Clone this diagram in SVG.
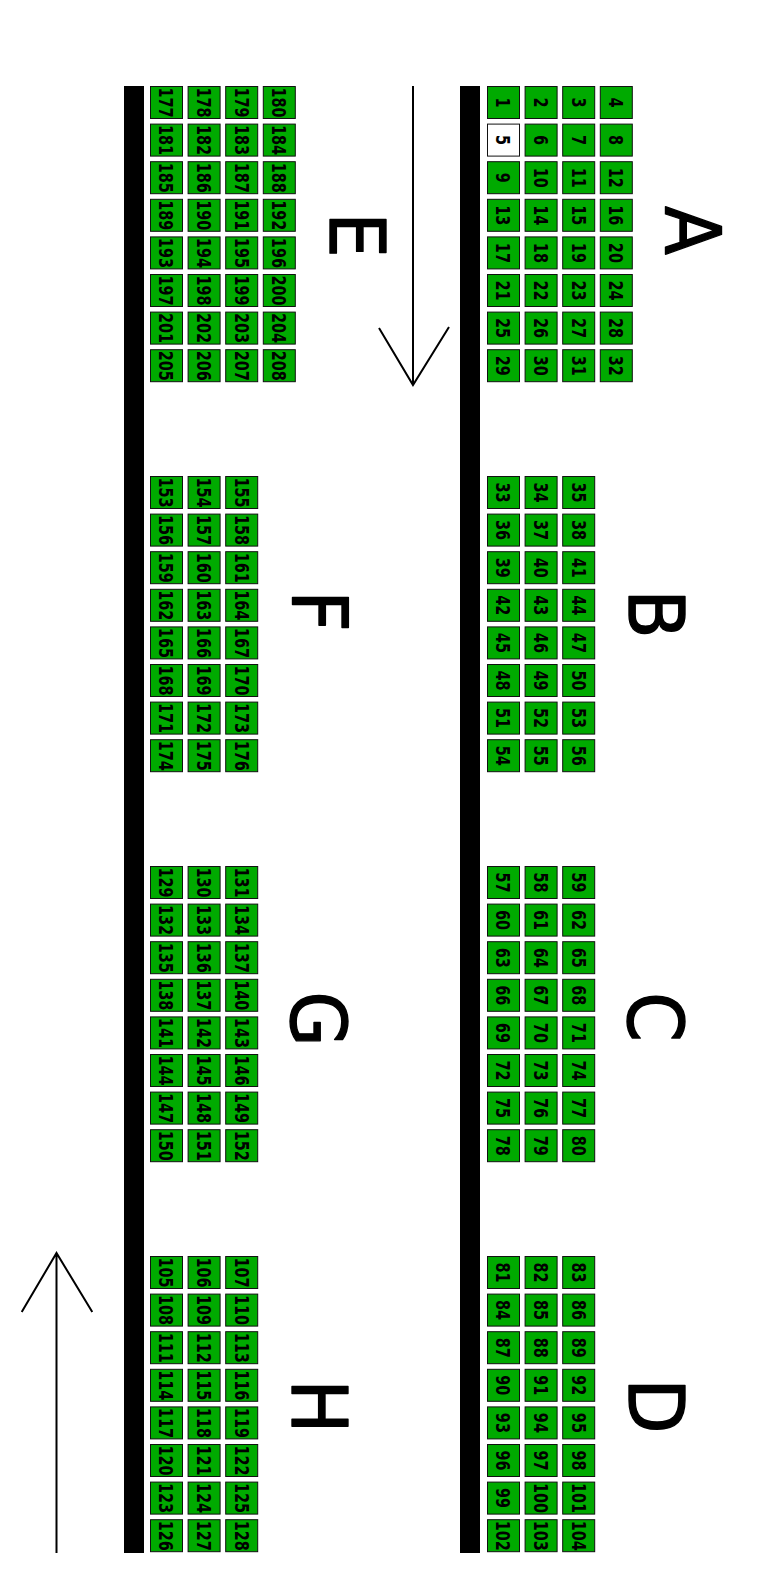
<svg xmlns="http://www.w3.org/2000/svg" width="759" height="1591" viewBox="0 0 759 1591">
<style>
rect.s{fill:#00aa00;stroke:#111;stroke-width:1}
rect.w{fill:#fff;stroke:#111;stroke-width:1}
text.n{font-family:"DejaVu Sans",sans-serif;font-weight:bold;font-size:19px;text-anchor:middle;fill:#000}
text.L{font-family:"DejaVu Sans",sans-serif;font-size:77px;text-anchor:middle;fill:#000;stroke:#000;stroke-width:1.4;stroke-linejoin:round}
.bar{fill:#000}
.arr{fill:none;stroke:#000;stroke-width:2}
</style>
<rect width="759" height="1591" fill="#fff"/>
<g id="curbs">
<rect class="bar" x="460" y="86" width="20" height="1467"/>
<rect class="bar" x="124" y="86" width="20" height="1467"/>
</g>
<g id="connectors">
<path class="arr" d="M413 86V385M379 328L413 385L449 327"/>
<path class="arr" d="M56.5 1553V1253M21.7 1312L56.5 1253L92.3 1312"/>
</g>
<g id="labels">
<text class="L" transform="translate(665.5 230.5) rotate(90) scale(.93 1)">A</text>
<text class="L" transform="translate(628.8 614) rotate(90) scale(.93 1)">B</text>
<text class="L" transform="translate(627.8 1017) rotate(90) scale(.93 1)">C</text>
<text class="L" transform="translate(628.5 1406) rotate(90) scale(.93 1)">D</text>
<text class="L" transform="translate(329.8 235) rotate(90) scale(.93 1)">E</text>
<text class="L" transform="translate(291.5 611) rotate(90) scale(.93 1)">F</text>
<text class="L" transform="translate(290.5 1019) rotate(90) scale(.93 1)">G</text>
<text class="L" transform="translate(292.2 1406.5) rotate(90) scale(.93 1)">H</text>
</g>
<g id="sectionA">
<g id="p1" transform="translate(503.5 102.5)"><rect class="s" x="-16" y="-16" width="32" height="32"/><text class="n" transform="rotate(90) scale(.76 1)" y="7">1</text></g>
<g id="p2" transform="translate(541.1 102.5)"><rect class="s" x="-16" y="-16" width="32" height="32"/><text class="n" transform="rotate(90) scale(.76 1)" y="7">2</text></g>
<g id="p3" transform="translate(578.7 102.5)"><rect class="s" x="-16" y="-16" width="32" height="32"/><text class="n" transform="rotate(90) scale(.76 1)" y="7">3</text></g>
<g id="p4" transform="translate(616.3 102.5)"><rect class="s" x="-16" y="-16" width="32" height="32"/><text class="n" transform="rotate(90) scale(.76 1)" y="7">4</text></g>
<g id="p5" transform="translate(503.5 140.1)"><rect class="w" x="-16" y="-16" width="32" height="32"/><text class="n" transform="rotate(90) scale(.76 1)" y="7">5</text></g>
<g id="p6" transform="translate(541.1 140.1)"><rect class="s" x="-16" y="-16" width="32" height="32"/><text class="n" transform="rotate(90) scale(.76 1)" y="7">6</text></g>
<g id="p7" transform="translate(578.7 140.1)"><rect class="s" x="-16" y="-16" width="32" height="32"/><text class="n" transform="rotate(90) scale(.76 1)" y="7">7</text></g>
<g id="p8" transform="translate(616.3 140.1)"><rect class="s" x="-16" y="-16" width="32" height="32"/><text class="n" transform="rotate(90) scale(.76 1)" y="7">8</text></g>
<g id="p9" transform="translate(503.5 177.7)"><rect class="s" x="-16" y="-16" width="32" height="32"/><text class="n" transform="rotate(90) scale(.76 1)" y="7">9</text></g>
<g id="p10" transform="translate(541.1 177.7)"><rect class="s" x="-16" y="-16" width="32" height="32"/><text class="n" transform="rotate(90) scale(.76 1)" y="7">10</text></g>
<g id="p11" transform="translate(578.7 177.7)"><rect class="s" x="-16" y="-16" width="32" height="32"/><text class="n" transform="rotate(90) scale(.76 1)" y="7">11</text></g>
<g id="p12" transform="translate(616.3 177.7)"><rect class="s" x="-16" y="-16" width="32" height="32"/><text class="n" transform="rotate(90) scale(.76 1)" y="7">12</text></g>
<g id="p13" transform="translate(503.5 215.3)"><rect class="s" x="-16" y="-16" width="32" height="32"/><text class="n" transform="rotate(90) scale(.76 1)" y="7">13</text></g>
<g id="p14" transform="translate(541.1 215.3)"><rect class="s" x="-16" y="-16" width="32" height="32"/><text class="n" transform="rotate(90) scale(.76 1)" y="7">14</text></g>
<g id="p15" transform="translate(578.7 215.3)"><rect class="s" x="-16" y="-16" width="32" height="32"/><text class="n" transform="rotate(90) scale(.76 1)" y="7">15</text></g>
<g id="p16" transform="translate(616.3 215.3)"><rect class="s" x="-16" y="-16" width="32" height="32"/><text class="n" transform="rotate(90) scale(.76 1)" y="7">16</text></g>
<g id="p17" transform="translate(503.5 252.9)"><rect class="s" x="-16" y="-16" width="32" height="32"/><text class="n" transform="rotate(90) scale(.76 1)" y="7">17</text></g>
<g id="p18" transform="translate(541.1 252.9)"><rect class="s" x="-16" y="-16" width="32" height="32"/><text class="n" transform="rotate(90) scale(.76 1)" y="7">18</text></g>
<g id="p19" transform="translate(578.7 252.9)"><rect class="s" x="-16" y="-16" width="32" height="32"/><text class="n" transform="rotate(90) scale(.76 1)" y="7">19</text></g>
<g id="p20" transform="translate(616.3 252.9)"><rect class="s" x="-16" y="-16" width="32" height="32"/><text class="n" transform="rotate(90) scale(.76 1)" y="7">20</text></g>
<g id="p21" transform="translate(503.5 290.5)"><rect class="s" x="-16" y="-16" width="32" height="32"/><text class="n" transform="rotate(90) scale(.76 1)" y="7">21</text></g>
<g id="p22" transform="translate(541.1 290.5)"><rect class="s" x="-16" y="-16" width="32" height="32"/><text class="n" transform="rotate(90) scale(.76 1)" y="7">22</text></g>
<g id="p23" transform="translate(578.7 290.5)"><rect class="s" x="-16" y="-16" width="32" height="32"/><text class="n" transform="rotate(90) scale(.76 1)" y="7">23</text></g>
<g id="p24" transform="translate(616.3 290.5)"><rect class="s" x="-16" y="-16" width="32" height="32"/><text class="n" transform="rotate(90) scale(.76 1)" y="7">24</text></g>
<g id="p25" transform="translate(503.5 328.1)"><rect class="s" x="-16" y="-16" width="32" height="32"/><text class="n" transform="rotate(90) scale(.76 1)" y="7">25</text></g>
<g id="p26" transform="translate(541.1 328.1)"><rect class="s" x="-16" y="-16" width="32" height="32"/><text class="n" transform="rotate(90) scale(.76 1)" y="7">26</text></g>
<g id="p27" transform="translate(578.7 328.1)"><rect class="s" x="-16" y="-16" width="32" height="32"/><text class="n" transform="rotate(90) scale(.76 1)" y="7">27</text></g>
<g id="p28" transform="translate(616.3 328.1)"><rect class="s" x="-16" y="-16" width="32" height="32"/><text class="n" transform="rotate(90) scale(.76 1)" y="7">28</text></g>
<g id="p29" transform="translate(503.5 365.7)"><rect class="s" x="-16" y="-16" width="32" height="32"/><text class="n" transform="rotate(90) scale(.76 1)" y="7">29</text></g>
<g id="p30" transform="translate(541.1 365.7)"><rect class="s" x="-16" y="-16" width="32" height="32"/><text class="n" transform="rotate(90) scale(.76 1)" y="7">30</text></g>
<g id="p31" transform="translate(578.7 365.7)"><rect class="s" x="-16" y="-16" width="32" height="32"/><text class="n" transform="rotate(90) scale(.76 1)" y="7">31</text></g>
<g id="p32" transform="translate(616.3 365.7)"><rect class="s" x="-16" y="-16" width="32" height="32"/><text class="n" transform="rotate(90) scale(.76 1)" y="7">32</text></g>
</g>
<g id="sectionB">
<g id="p33" transform="translate(503.5 492.5)"><rect class="s" x="-16" y="-16" width="32" height="32"/><text class="n" transform="rotate(90) scale(.76 1)" y="7">33</text></g>
<g id="p34" transform="translate(541.1 492.5)"><rect class="s" x="-16" y="-16" width="32" height="32"/><text class="n" transform="rotate(90) scale(.76 1)" y="7">34</text></g>
<g id="p35" transform="translate(578.7 492.5)"><rect class="s" x="-16" y="-16" width="32" height="32"/><text class="n" transform="rotate(90) scale(.76 1)" y="7">35</text></g>
<g id="p36" transform="translate(503.5 530.1)"><rect class="s" x="-16" y="-16" width="32" height="32"/><text class="n" transform="rotate(90) scale(.76 1)" y="7">36</text></g>
<g id="p37" transform="translate(541.1 530.1)"><rect class="s" x="-16" y="-16" width="32" height="32"/><text class="n" transform="rotate(90) scale(.76 1)" y="7">37</text></g>
<g id="p38" transform="translate(578.7 530.1)"><rect class="s" x="-16" y="-16" width="32" height="32"/><text class="n" transform="rotate(90) scale(.76 1)" y="7">38</text></g>
<g id="p39" transform="translate(503.5 567.7)"><rect class="s" x="-16" y="-16" width="32" height="32"/><text class="n" transform="rotate(90) scale(.76 1)" y="7">39</text></g>
<g id="p40" transform="translate(541.1 567.7)"><rect class="s" x="-16" y="-16" width="32" height="32"/><text class="n" transform="rotate(90) scale(.76 1)" y="7">40</text></g>
<g id="p41" transform="translate(578.7 567.7)"><rect class="s" x="-16" y="-16" width="32" height="32"/><text class="n" transform="rotate(90) scale(.76 1)" y="7">41</text></g>
<g id="p42" transform="translate(503.5 605.3)"><rect class="s" x="-16" y="-16" width="32" height="32"/><text class="n" transform="rotate(90) scale(.76 1)" y="7">42</text></g>
<g id="p43" transform="translate(541.1 605.3)"><rect class="s" x="-16" y="-16" width="32" height="32"/><text class="n" transform="rotate(90) scale(.76 1)" y="7">43</text></g>
<g id="p44" transform="translate(578.7 605.3)"><rect class="s" x="-16" y="-16" width="32" height="32"/><text class="n" transform="rotate(90) scale(.76 1)" y="7">44</text></g>
<g id="p45" transform="translate(503.5 642.9)"><rect class="s" x="-16" y="-16" width="32" height="32"/><text class="n" transform="rotate(90) scale(.76 1)" y="7">45</text></g>
<g id="p46" transform="translate(541.1 642.9)"><rect class="s" x="-16" y="-16" width="32" height="32"/><text class="n" transform="rotate(90) scale(.76 1)" y="7">46</text></g>
<g id="p47" transform="translate(578.7 642.9)"><rect class="s" x="-16" y="-16" width="32" height="32"/><text class="n" transform="rotate(90) scale(.76 1)" y="7">47</text></g>
<g id="p48" transform="translate(503.5 680.5)"><rect class="s" x="-16" y="-16" width="32" height="32"/><text class="n" transform="rotate(90) scale(.76 1)" y="7">48</text></g>
<g id="p49" transform="translate(541.1 680.5)"><rect class="s" x="-16" y="-16" width="32" height="32"/><text class="n" transform="rotate(90) scale(.76 1)" y="7">49</text></g>
<g id="p50" transform="translate(578.7 680.5)"><rect class="s" x="-16" y="-16" width="32" height="32"/><text class="n" transform="rotate(90) scale(.76 1)" y="7">50</text></g>
<g id="p51" transform="translate(503.5 718.1)"><rect class="s" x="-16" y="-16" width="32" height="32"/><text class="n" transform="rotate(90) scale(.76 1)" y="7">51</text></g>
<g id="p52" transform="translate(541.1 718.1)"><rect class="s" x="-16" y="-16" width="32" height="32"/><text class="n" transform="rotate(90) scale(.76 1)" y="7">52</text></g>
<g id="p53" transform="translate(578.7 718.1)"><rect class="s" x="-16" y="-16" width="32" height="32"/><text class="n" transform="rotate(90) scale(.76 1)" y="7">53</text></g>
<g id="p54" transform="translate(503.5 755.7)"><rect class="s" x="-16" y="-16" width="32" height="32"/><text class="n" transform="rotate(90) scale(.76 1)" y="7">54</text></g>
<g id="p55" transform="translate(541.1 755.7)"><rect class="s" x="-16" y="-16" width="32" height="32"/><text class="n" transform="rotate(90) scale(.76 1)" y="7">55</text></g>
<g id="p56" transform="translate(578.7 755.7)"><rect class="s" x="-16" y="-16" width="32" height="32"/><text class="n" transform="rotate(90) scale(.76 1)" y="7">56</text></g>
</g>
<g id="sectionC">
<g id="p57" transform="translate(503.5 882.5)"><rect class="s" x="-16" y="-16" width="32" height="32"/><text class="n" transform="rotate(90) scale(.76 1)" y="7">57</text></g>
<g id="p58" transform="translate(541.1 882.5)"><rect class="s" x="-16" y="-16" width="32" height="32"/><text class="n" transform="rotate(90) scale(.76 1)" y="7">58</text></g>
<g id="p59" transform="translate(578.7 882.5)"><rect class="s" x="-16" y="-16" width="32" height="32"/><text class="n" transform="rotate(90) scale(.76 1)" y="7">59</text></g>
<g id="p60" transform="translate(503.5 920.1)"><rect class="s" x="-16" y="-16" width="32" height="32"/><text class="n" transform="rotate(90) scale(.76 1)" y="7">60</text></g>
<g id="p61" transform="translate(541.1 920.1)"><rect class="s" x="-16" y="-16" width="32" height="32"/><text class="n" transform="rotate(90) scale(.76 1)" y="7">61</text></g>
<g id="p62" transform="translate(578.7 920.1)"><rect class="s" x="-16" y="-16" width="32" height="32"/><text class="n" transform="rotate(90) scale(.76 1)" y="7">62</text></g>
<g id="p63" transform="translate(503.5 957.7)"><rect class="s" x="-16" y="-16" width="32" height="32"/><text class="n" transform="rotate(90) scale(.76 1)" y="7">63</text></g>
<g id="p64" transform="translate(541.1 957.7)"><rect class="s" x="-16" y="-16" width="32" height="32"/><text class="n" transform="rotate(90) scale(.76 1)" y="7">64</text></g>
<g id="p65" transform="translate(578.7 957.7)"><rect class="s" x="-16" y="-16" width="32" height="32"/><text class="n" transform="rotate(90) scale(.76 1)" y="7">65</text></g>
<g id="p66" transform="translate(503.5 995.3)"><rect class="s" x="-16" y="-16" width="32" height="32"/><text class="n" transform="rotate(90) scale(.76 1)" y="7">66</text></g>
<g id="p67" transform="translate(541.1 995.3)"><rect class="s" x="-16" y="-16" width="32" height="32"/><text class="n" transform="rotate(90) scale(.76 1)" y="7">67</text></g>
<g id="p68" transform="translate(578.7 995.3)"><rect class="s" x="-16" y="-16" width="32" height="32"/><text class="n" transform="rotate(90) scale(.76 1)" y="7">68</text></g>
<g id="p69" transform="translate(503.5 1032.9)"><rect class="s" x="-16" y="-16" width="32" height="32"/><text class="n" transform="rotate(90) scale(.76 1)" y="7">69</text></g>
<g id="p70" transform="translate(541.1 1032.9)"><rect class="s" x="-16" y="-16" width="32" height="32"/><text class="n" transform="rotate(90) scale(.76 1)" y="7">70</text></g>
<g id="p71" transform="translate(578.7 1032.9)"><rect class="s" x="-16" y="-16" width="32" height="32"/><text class="n" transform="rotate(90) scale(.76 1)" y="7">71</text></g>
<g id="p72" transform="translate(503.5 1070.5)"><rect class="s" x="-16" y="-16" width="32" height="32"/><text class="n" transform="rotate(90) scale(.76 1)" y="7">72</text></g>
<g id="p73" transform="translate(541.1 1070.5)"><rect class="s" x="-16" y="-16" width="32" height="32"/><text class="n" transform="rotate(90) scale(.76 1)" y="7">73</text></g>
<g id="p74" transform="translate(578.7 1070.5)"><rect class="s" x="-16" y="-16" width="32" height="32"/><text class="n" transform="rotate(90) scale(.76 1)" y="7">74</text></g>
<g id="p75" transform="translate(503.5 1108.1)"><rect class="s" x="-16" y="-16" width="32" height="32"/><text class="n" transform="rotate(90) scale(.76 1)" y="7">75</text></g>
<g id="p76" transform="translate(541.1 1108.1)"><rect class="s" x="-16" y="-16" width="32" height="32"/><text class="n" transform="rotate(90) scale(.76 1)" y="7">76</text></g>
<g id="p77" transform="translate(578.7 1108.1)"><rect class="s" x="-16" y="-16" width="32" height="32"/><text class="n" transform="rotate(90) scale(.76 1)" y="7">77</text></g>
<g id="p78" transform="translate(503.5 1145.7)"><rect class="s" x="-16" y="-16" width="32" height="32"/><text class="n" transform="rotate(90) scale(.76 1)" y="7">78</text></g>
<g id="p79" transform="translate(541.1 1145.7)"><rect class="s" x="-16" y="-16" width="32" height="32"/><text class="n" transform="rotate(90) scale(.76 1)" y="7">79</text></g>
<g id="p80" transform="translate(578.7 1145.7)"><rect class="s" x="-16" y="-16" width="32" height="32"/><text class="n" transform="rotate(90) scale(.76 1)" y="7">80</text></g>
</g>
<g id="sectionD">
<g id="p81" transform="translate(503.5 1272.5)"><rect class="s" x="-16" y="-16" width="32" height="32"/><text class="n" transform="rotate(90) scale(.76 1)" y="7">81</text></g>
<g id="p82" transform="translate(541.1 1272.5)"><rect class="s" x="-16" y="-16" width="32" height="32"/><text class="n" transform="rotate(90) scale(.76 1)" y="7">82</text></g>
<g id="p83" transform="translate(578.7 1272.5)"><rect class="s" x="-16" y="-16" width="32" height="32"/><text class="n" transform="rotate(90) scale(.76 1)" y="7">83</text></g>
<g id="p84" transform="translate(503.5 1310.1)"><rect class="s" x="-16" y="-16" width="32" height="32"/><text class="n" transform="rotate(90) scale(.76 1)" y="7">84</text></g>
<g id="p85" transform="translate(541.1 1310.1)"><rect class="s" x="-16" y="-16" width="32" height="32"/><text class="n" transform="rotate(90) scale(.76 1)" y="7">85</text></g>
<g id="p86" transform="translate(578.7 1310.1)"><rect class="s" x="-16" y="-16" width="32" height="32"/><text class="n" transform="rotate(90) scale(.76 1)" y="7">86</text></g>
<g id="p87" transform="translate(503.5 1347.7)"><rect class="s" x="-16" y="-16" width="32" height="32"/><text class="n" transform="rotate(90) scale(.76 1)" y="7">87</text></g>
<g id="p88" transform="translate(541.1 1347.7)"><rect class="s" x="-16" y="-16" width="32" height="32"/><text class="n" transform="rotate(90) scale(.76 1)" y="7">88</text></g>
<g id="p89" transform="translate(578.7 1347.7)"><rect class="s" x="-16" y="-16" width="32" height="32"/><text class="n" transform="rotate(90) scale(.76 1)" y="7">89</text></g>
<g id="p90" transform="translate(503.5 1385.3)"><rect class="s" x="-16" y="-16" width="32" height="32"/><text class="n" transform="rotate(90) scale(.76 1)" y="7">90</text></g>
<g id="p91" transform="translate(541.1 1385.3)"><rect class="s" x="-16" y="-16" width="32" height="32"/><text class="n" transform="rotate(90) scale(.76 1)" y="7">91</text></g>
<g id="p92" transform="translate(578.7 1385.3)"><rect class="s" x="-16" y="-16" width="32" height="32"/><text class="n" transform="rotate(90) scale(.76 1)" y="7">92</text></g>
<g id="p93" transform="translate(503.5 1422.9)"><rect class="s" x="-16" y="-16" width="32" height="32"/><text class="n" transform="rotate(90) scale(.76 1)" y="7">93</text></g>
<g id="p94" transform="translate(541.1 1422.9)"><rect class="s" x="-16" y="-16" width="32" height="32"/><text class="n" transform="rotate(90) scale(.76 1)" y="7">94</text></g>
<g id="p95" transform="translate(578.7 1422.9)"><rect class="s" x="-16" y="-16" width="32" height="32"/><text class="n" transform="rotate(90) scale(.76 1)" y="7">95</text></g>
<g id="p96" transform="translate(503.5 1460.5)"><rect class="s" x="-16" y="-16" width="32" height="32"/><text class="n" transform="rotate(90) scale(.76 1)" y="7">96</text></g>
<g id="p97" transform="translate(541.1 1460.5)"><rect class="s" x="-16" y="-16" width="32" height="32"/><text class="n" transform="rotate(90) scale(.76 1)" y="7">97</text></g>
<g id="p98" transform="translate(578.7 1460.5)"><rect class="s" x="-16" y="-16" width="32" height="32"/><text class="n" transform="rotate(90) scale(.76 1)" y="7">98</text></g>
<g id="p99" transform="translate(503.5 1498.1)"><rect class="s" x="-16" y="-16" width="32" height="32"/><text class="n" transform="rotate(90) scale(.76 1)" y="7">99</text></g>
<g id="p100" transform="translate(541.1 1498.1)"><rect class="s" x="-16" y="-16" width="32" height="32"/><text class="n" transform="rotate(90) scale(.76 1)" y="7">100</text></g>
<g id="p101" transform="translate(578.7 1498.1)"><rect class="s" x="-16" y="-16" width="32" height="32"/><text class="n" transform="rotate(90) scale(.76 1)" y="7">101</text></g>
<g id="p102" transform="translate(503.5 1535.7)"><rect class="s" x="-16" y="-16" width="32" height="32"/><text class="n" transform="rotate(90) scale(.76 1)" y="7">102</text></g>
<g id="p103" transform="translate(541.1 1535.7)"><rect class="s" x="-16" y="-16" width="32" height="32"/><text class="n" transform="rotate(90) scale(.76 1)" y="7">103</text></g>
<g id="p104" transform="translate(578.7 1535.7)"><rect class="s" x="-16" y="-16" width="32" height="32"/><text class="n" transform="rotate(90) scale(.76 1)" y="7">104</text></g>
</g>
<g id="sectionE">
<g id="p177" transform="translate(166.5 102.5)"><rect class="s" x="-16" y="-16" width="32" height="32"/><text class="n" transform="rotate(90) scale(.76 1)" y="7">177</text></g>
<g id="p178" transform="translate(204.1 102.5)"><rect class="s" x="-16" y="-16" width="32" height="32"/><text class="n" transform="rotate(90) scale(.76 1)" y="7">178</text></g>
<g id="p179" transform="translate(241.7 102.5)"><rect class="s" x="-16" y="-16" width="32" height="32"/><text class="n" transform="rotate(90) scale(.76 1)" y="7">179</text></g>
<g id="p180" transform="translate(279.3 102.5)"><rect class="s" x="-16" y="-16" width="32" height="32"/><text class="n" transform="rotate(90) scale(.76 1)" y="7">180</text></g>
<g id="p181" transform="translate(166.5 140.1)"><rect class="s" x="-16" y="-16" width="32" height="32"/><text class="n" transform="rotate(90) scale(.76 1)" y="7">181</text></g>
<g id="p182" transform="translate(204.1 140.1)"><rect class="s" x="-16" y="-16" width="32" height="32"/><text class="n" transform="rotate(90) scale(.76 1)" y="7">182</text></g>
<g id="p183" transform="translate(241.7 140.1)"><rect class="s" x="-16" y="-16" width="32" height="32"/><text class="n" transform="rotate(90) scale(.76 1)" y="7">183</text></g>
<g id="p184" transform="translate(279.3 140.1)"><rect class="s" x="-16" y="-16" width="32" height="32"/><text class="n" transform="rotate(90) scale(.76 1)" y="7">184</text></g>
<g id="p185" transform="translate(166.5 177.7)"><rect class="s" x="-16" y="-16" width="32" height="32"/><text class="n" transform="rotate(90) scale(.76 1)" y="7">185</text></g>
<g id="p186" transform="translate(204.1 177.7)"><rect class="s" x="-16" y="-16" width="32" height="32"/><text class="n" transform="rotate(90) scale(.76 1)" y="7">186</text></g>
<g id="p187" transform="translate(241.7 177.7)"><rect class="s" x="-16" y="-16" width="32" height="32"/><text class="n" transform="rotate(90) scale(.76 1)" y="7">187</text></g>
<g id="p188" transform="translate(279.3 177.7)"><rect class="s" x="-16" y="-16" width="32" height="32"/><text class="n" transform="rotate(90) scale(.76 1)" y="7">188</text></g>
<g id="p189" transform="translate(166.5 215.3)"><rect class="s" x="-16" y="-16" width="32" height="32"/><text class="n" transform="rotate(90) scale(.76 1)" y="7">189</text></g>
<g id="p190" transform="translate(204.1 215.3)"><rect class="s" x="-16" y="-16" width="32" height="32"/><text class="n" transform="rotate(90) scale(.76 1)" y="7">190</text></g>
<g id="p191" transform="translate(241.7 215.3)"><rect class="s" x="-16" y="-16" width="32" height="32"/><text class="n" transform="rotate(90) scale(.76 1)" y="7">191</text></g>
<g id="p192" transform="translate(279.3 215.3)"><rect class="s" x="-16" y="-16" width="32" height="32"/><text class="n" transform="rotate(90) scale(.76 1)" y="7">192</text></g>
<g id="p193" transform="translate(166.5 252.9)"><rect class="s" x="-16" y="-16" width="32" height="32"/><text class="n" transform="rotate(90) scale(.76 1)" y="7">193</text></g>
<g id="p194" transform="translate(204.1 252.9)"><rect class="s" x="-16" y="-16" width="32" height="32"/><text class="n" transform="rotate(90) scale(.76 1)" y="7">194</text></g>
<g id="p195" transform="translate(241.7 252.9)"><rect class="s" x="-16" y="-16" width="32" height="32"/><text class="n" transform="rotate(90) scale(.76 1)" y="7">195</text></g>
<g id="p196" transform="translate(279.3 252.9)"><rect class="s" x="-16" y="-16" width="32" height="32"/><text class="n" transform="rotate(90) scale(.76 1)" y="7">196</text></g>
<g id="p197" transform="translate(166.5 290.5)"><rect class="s" x="-16" y="-16" width="32" height="32"/><text class="n" transform="rotate(90) scale(.76 1)" y="7">197</text></g>
<g id="p198" transform="translate(204.1 290.5)"><rect class="s" x="-16" y="-16" width="32" height="32"/><text class="n" transform="rotate(90) scale(.76 1)" y="7">198</text></g>
<g id="p199" transform="translate(241.7 290.5)"><rect class="s" x="-16" y="-16" width="32" height="32"/><text class="n" transform="rotate(90) scale(.76 1)" y="7">199</text></g>
<g id="p200" transform="translate(279.3 290.5)"><rect class="s" x="-16" y="-16" width="32" height="32"/><text class="n" transform="rotate(90) scale(.76 1)" y="7">200</text></g>
<g id="p201" transform="translate(166.5 328.1)"><rect class="s" x="-16" y="-16" width="32" height="32"/><text class="n" transform="rotate(90) scale(.76 1)" y="7">201</text></g>
<g id="p202" transform="translate(204.1 328.1)"><rect class="s" x="-16" y="-16" width="32" height="32"/><text class="n" transform="rotate(90) scale(.76 1)" y="7">202</text></g>
<g id="p203" transform="translate(241.7 328.1)"><rect class="s" x="-16" y="-16" width="32" height="32"/><text class="n" transform="rotate(90) scale(.76 1)" y="7">203</text></g>
<g id="p204" transform="translate(279.3 328.1)"><rect class="s" x="-16" y="-16" width="32" height="32"/><text class="n" transform="rotate(90) scale(.76 1)" y="7">204</text></g>
<g id="p205" transform="translate(166.5 365.7)"><rect class="s" x="-16" y="-16" width="32" height="32"/><text class="n" transform="rotate(90) scale(.76 1)" y="7">205</text></g>
<g id="p206" transform="translate(204.1 365.7)"><rect class="s" x="-16" y="-16" width="32" height="32"/><text class="n" transform="rotate(90) scale(.76 1)" y="7">206</text></g>
<g id="p207" transform="translate(241.7 365.7)"><rect class="s" x="-16" y="-16" width="32" height="32"/><text class="n" transform="rotate(90) scale(.76 1)" y="7">207</text></g>
<g id="p208" transform="translate(279.3 365.7)"><rect class="s" x="-16" y="-16" width="32" height="32"/><text class="n" transform="rotate(90) scale(.76 1)" y="7">208</text></g>
</g>
<g id="sectionF">
<g id="p153" transform="translate(166.5 492.5)"><rect class="s" x="-16" y="-16" width="32" height="32"/><text class="n" transform="rotate(90) scale(.76 1)" y="7">153</text></g>
<g id="p154" transform="translate(204.1 492.5)"><rect class="s" x="-16" y="-16" width="32" height="32"/><text class="n" transform="rotate(90) scale(.76 1)" y="7">154</text></g>
<g id="p155" transform="translate(241.7 492.5)"><rect class="s" x="-16" y="-16" width="32" height="32"/><text class="n" transform="rotate(90) scale(.76 1)" y="7">155</text></g>
<g id="p156" transform="translate(166.5 530.1)"><rect class="s" x="-16" y="-16" width="32" height="32"/><text class="n" transform="rotate(90) scale(.76 1)" y="7">156</text></g>
<g id="p157" transform="translate(204.1 530.1)"><rect class="s" x="-16" y="-16" width="32" height="32"/><text class="n" transform="rotate(90) scale(.76 1)" y="7">157</text></g>
<g id="p158" transform="translate(241.7 530.1)"><rect class="s" x="-16" y="-16" width="32" height="32"/><text class="n" transform="rotate(90) scale(.76 1)" y="7">158</text></g>
<g id="p159" transform="translate(166.5 567.7)"><rect class="s" x="-16" y="-16" width="32" height="32"/><text class="n" transform="rotate(90) scale(.76 1)" y="7">159</text></g>
<g id="p160" transform="translate(204.1 567.7)"><rect class="s" x="-16" y="-16" width="32" height="32"/><text class="n" transform="rotate(90) scale(.76 1)" y="7">160</text></g>
<g id="p161" transform="translate(241.7 567.7)"><rect class="s" x="-16" y="-16" width="32" height="32"/><text class="n" transform="rotate(90) scale(.76 1)" y="7">161</text></g>
<g id="p162" transform="translate(166.5 605.3)"><rect class="s" x="-16" y="-16" width="32" height="32"/><text class="n" transform="rotate(90) scale(.76 1)" y="7">162</text></g>
<g id="p163" transform="translate(204.1 605.3)"><rect class="s" x="-16" y="-16" width="32" height="32"/><text class="n" transform="rotate(90) scale(.76 1)" y="7">163</text></g>
<g id="p164" transform="translate(241.7 605.3)"><rect class="s" x="-16" y="-16" width="32" height="32"/><text class="n" transform="rotate(90) scale(.76 1)" y="7">164</text></g>
<g id="p165" transform="translate(166.5 642.9)"><rect class="s" x="-16" y="-16" width="32" height="32"/><text class="n" transform="rotate(90) scale(.76 1)" y="7">165</text></g>
<g id="p166" transform="translate(204.1 642.9)"><rect class="s" x="-16" y="-16" width="32" height="32"/><text class="n" transform="rotate(90) scale(.76 1)" y="7">166</text></g>
<g id="p167" transform="translate(241.7 642.9)"><rect class="s" x="-16" y="-16" width="32" height="32"/><text class="n" transform="rotate(90) scale(.76 1)" y="7">167</text></g>
<g id="p168" transform="translate(166.5 680.5)"><rect class="s" x="-16" y="-16" width="32" height="32"/><text class="n" transform="rotate(90) scale(.76 1)" y="7">168</text></g>
<g id="p169" transform="translate(204.1 680.5)"><rect class="s" x="-16" y="-16" width="32" height="32"/><text class="n" transform="rotate(90) scale(.76 1)" y="7">169</text></g>
<g id="p170" transform="translate(241.7 680.5)"><rect class="s" x="-16" y="-16" width="32" height="32"/><text class="n" transform="rotate(90) scale(.76 1)" y="7">170</text></g>
<g id="p171" transform="translate(166.5 718.1)"><rect class="s" x="-16" y="-16" width="32" height="32"/><text class="n" transform="rotate(90) scale(.76 1)" y="7">171</text></g>
<g id="p172" transform="translate(204.1 718.1)"><rect class="s" x="-16" y="-16" width="32" height="32"/><text class="n" transform="rotate(90) scale(.76 1)" y="7">172</text></g>
<g id="p173" transform="translate(241.7 718.1)"><rect class="s" x="-16" y="-16" width="32" height="32"/><text class="n" transform="rotate(90) scale(.76 1)" y="7">173</text></g>
<g id="p174" transform="translate(166.5 755.7)"><rect class="s" x="-16" y="-16" width="32" height="32"/><text class="n" transform="rotate(90) scale(.76 1)" y="7">174</text></g>
<g id="p175" transform="translate(204.1 755.7)"><rect class="s" x="-16" y="-16" width="32" height="32"/><text class="n" transform="rotate(90) scale(.76 1)" y="7">175</text></g>
<g id="p176" transform="translate(241.7 755.7)"><rect class="s" x="-16" y="-16" width="32" height="32"/><text class="n" transform="rotate(90) scale(.76 1)" y="7">176</text></g>
</g>
<g id="sectionG">
<g id="p129" transform="translate(166.5 882.5)"><rect class="s" x="-16" y="-16" width="32" height="32"/><text class="n" transform="rotate(90) scale(.76 1)" y="7">129</text></g>
<g id="p130" transform="translate(204.1 882.5)"><rect class="s" x="-16" y="-16" width="32" height="32"/><text class="n" transform="rotate(90) scale(.76 1)" y="7">130</text></g>
<g id="p131" transform="translate(241.7 882.5)"><rect class="s" x="-16" y="-16" width="32" height="32"/><text class="n" transform="rotate(90) scale(.76 1)" y="7">131</text></g>
<g id="p132" transform="translate(166.5 920.1)"><rect class="s" x="-16" y="-16" width="32" height="32"/><text class="n" transform="rotate(90) scale(.76 1)" y="7">132</text></g>
<g id="p133" transform="translate(204.1 920.1)"><rect class="s" x="-16" y="-16" width="32" height="32"/><text class="n" transform="rotate(90) scale(.76 1)" y="7">133</text></g>
<g id="p134" transform="translate(241.7 920.1)"><rect class="s" x="-16" y="-16" width="32" height="32"/><text class="n" transform="rotate(90) scale(.76 1)" y="7">134</text></g>
<g id="p135" transform="translate(166.5 957.7)"><rect class="s" x="-16" y="-16" width="32" height="32"/><text class="n" transform="rotate(90) scale(.76 1)" y="7">135</text></g>
<g id="p136" transform="translate(204.1 957.7)"><rect class="s" x="-16" y="-16" width="32" height="32"/><text class="n" transform="rotate(90) scale(.76 1)" y="7">136</text></g>
<g id="p137" transform="translate(241.7 957.7)"><rect class="s" x="-16" y="-16" width="32" height="32"/><text class="n" transform="rotate(90) scale(.76 1)" y="7">137</text></g>
<g id="p138" transform="translate(166.5 995.3)"><rect class="s" x="-16" y="-16" width="32" height="32"/><text class="n" transform="rotate(90) scale(.76 1)" y="7">138</text></g>
<g id="p139" transform="translate(204.1 995.3)"><rect class="s" x="-16" y="-16" width="32" height="32"/><text class="n" transform="rotate(90) scale(.76 1)" y="7">137</text></g>
<g id="p140" transform="translate(241.7 995.3)"><rect class="s" x="-16" y="-16" width="32" height="32"/><text class="n" transform="rotate(90) scale(.76 1)" y="7">140</text></g>
<g id="p141" transform="translate(166.5 1032.9)"><rect class="s" x="-16" y="-16" width="32" height="32"/><text class="n" transform="rotate(90) scale(.76 1)" y="7">141</text></g>
<g id="p142" transform="translate(204.1 1032.9)"><rect class="s" x="-16" y="-16" width="32" height="32"/><text class="n" transform="rotate(90) scale(.76 1)" y="7">142</text></g>
<g id="p143" transform="translate(241.7 1032.9)"><rect class="s" x="-16" y="-16" width="32" height="32"/><text class="n" transform="rotate(90) scale(.76 1)" y="7">143</text></g>
<g id="p144" transform="translate(166.5 1070.5)"><rect class="s" x="-16" y="-16" width="32" height="32"/><text class="n" transform="rotate(90) scale(.76 1)" y="7">144</text></g>
<g id="p145" transform="translate(204.1 1070.5)"><rect class="s" x="-16" y="-16" width="32" height="32"/><text class="n" transform="rotate(90) scale(.76 1)" y="7">145</text></g>
<g id="p146" transform="translate(241.7 1070.5)"><rect class="s" x="-16" y="-16" width="32" height="32"/><text class="n" transform="rotate(90) scale(.76 1)" y="7">146</text></g>
<g id="p147" transform="translate(166.5 1108.1)"><rect class="s" x="-16" y="-16" width="32" height="32"/><text class="n" transform="rotate(90) scale(.76 1)" y="7">147</text></g>
<g id="p148" transform="translate(204.1 1108.1)"><rect class="s" x="-16" y="-16" width="32" height="32"/><text class="n" transform="rotate(90) scale(.76 1)" y="7">148</text></g>
<g id="p149" transform="translate(241.7 1108.1)"><rect class="s" x="-16" y="-16" width="32" height="32"/><text class="n" transform="rotate(90) scale(.76 1)" y="7">149</text></g>
<g id="p150" transform="translate(166.5 1145.7)"><rect class="s" x="-16" y="-16" width="32" height="32"/><text class="n" transform="rotate(90) scale(.76 1)" y="7">150</text></g>
<g id="p151" transform="translate(204.1 1145.7)"><rect class="s" x="-16" y="-16" width="32" height="32"/><text class="n" transform="rotate(90) scale(.76 1)" y="7">151</text></g>
<g id="p152" transform="translate(241.7 1145.7)"><rect class="s" x="-16" y="-16" width="32" height="32"/><text class="n" transform="rotate(90) scale(.76 1)" y="7">152</text></g>
</g>
<g id="sectionH">
<g id="p105" transform="translate(166.5 1272.5)"><rect class="s" x="-16" y="-16" width="32" height="32"/><text class="n" transform="rotate(90) scale(.76 1)" y="7">105</text></g>
<g id="p106" transform="translate(204.1 1272.5)"><rect class="s" x="-16" y="-16" width="32" height="32"/><text class="n" transform="rotate(90) scale(.76 1)" y="7">106</text></g>
<g id="p107" transform="translate(241.7 1272.5)"><rect class="s" x="-16" y="-16" width="32" height="32"/><text class="n" transform="rotate(90) scale(.76 1)" y="7">107</text></g>
<g id="p108" transform="translate(166.5 1310.1)"><rect class="s" x="-16" y="-16" width="32" height="32"/><text class="n" transform="rotate(90) scale(.76 1)" y="7">108</text></g>
<g id="p109" transform="translate(204.1 1310.1)"><rect class="s" x="-16" y="-16" width="32" height="32"/><text class="n" transform="rotate(90) scale(.76 1)" y="7">109</text></g>
<g id="p110" transform="translate(241.7 1310.1)"><rect class="s" x="-16" y="-16" width="32" height="32"/><text class="n" transform="rotate(90) scale(.76 1)" y="7">110</text></g>
<g id="p111" transform="translate(166.5 1347.7)"><rect class="s" x="-16" y="-16" width="32" height="32"/><text class="n" transform="rotate(90) scale(.76 1)" y="7">111</text></g>
<g id="p112" transform="translate(204.1 1347.7)"><rect class="s" x="-16" y="-16" width="32" height="32"/><text class="n" transform="rotate(90) scale(.76 1)" y="7">112</text></g>
<g id="p113" transform="translate(241.7 1347.7)"><rect class="s" x="-16" y="-16" width="32" height="32"/><text class="n" transform="rotate(90) scale(.76 1)" y="7">113</text></g>
<g id="p114" transform="translate(166.5 1385.3)"><rect class="s" x="-16" y="-16" width="32" height="32"/><text class="n" transform="rotate(90) scale(.76 1)" y="7">114</text></g>
<g id="p115" transform="translate(204.1 1385.3)"><rect class="s" x="-16" y="-16" width="32" height="32"/><text class="n" transform="rotate(90) scale(.76 1)" y="7">115</text></g>
<g id="p116" transform="translate(241.7 1385.3)"><rect class="s" x="-16" y="-16" width="32" height="32"/><text class="n" transform="rotate(90) scale(.76 1)" y="7">116</text></g>
<g id="p117" transform="translate(166.5 1422.9)"><rect class="s" x="-16" y="-16" width="32" height="32"/><text class="n" transform="rotate(90) scale(.76 1)" y="7">117</text></g>
<g id="p118" transform="translate(204.1 1422.9)"><rect class="s" x="-16" y="-16" width="32" height="32"/><text class="n" transform="rotate(90) scale(.76 1)" y="7">118</text></g>
<g id="p119" transform="translate(241.7 1422.9)"><rect class="s" x="-16" y="-16" width="32" height="32"/><text class="n" transform="rotate(90) scale(.76 1)" y="7">119</text></g>
<g id="p120" transform="translate(166.5 1460.5)"><rect class="s" x="-16" y="-16" width="32" height="32"/><text class="n" transform="rotate(90) scale(.76 1)" y="7">120</text></g>
<g id="p121" transform="translate(204.1 1460.5)"><rect class="s" x="-16" y="-16" width="32" height="32"/><text class="n" transform="rotate(90) scale(.76 1)" y="7">121</text></g>
<g id="p122" transform="translate(241.7 1460.5)"><rect class="s" x="-16" y="-16" width="32" height="32"/><text class="n" transform="rotate(90) scale(.76 1)" y="7">122</text></g>
<g id="p123" transform="translate(166.5 1498.1)"><rect class="s" x="-16" y="-16" width="32" height="32"/><text class="n" transform="rotate(90) scale(.76 1)" y="7">123</text></g>
<g id="p124" transform="translate(204.1 1498.1)"><rect class="s" x="-16" y="-16" width="32" height="32"/><text class="n" transform="rotate(90) scale(.76 1)" y="7">124</text></g>
<g id="p125" transform="translate(241.7 1498.1)"><rect class="s" x="-16" y="-16" width="32" height="32"/><text class="n" transform="rotate(90) scale(.76 1)" y="7">125</text></g>
<g id="p126" transform="translate(166.5 1535.7)"><rect class="s" x="-16" y="-16" width="32" height="32"/><text class="n" transform="rotate(90) scale(.76 1)" y="7">126</text></g>
<g id="p127" transform="translate(204.1 1535.7)"><rect class="s" x="-16" y="-16" width="32" height="32"/><text class="n" transform="rotate(90) scale(.76 1)" y="7">127</text></g>
<g id="p128" transform="translate(241.7 1535.7)"><rect class="s" x="-16" y="-16" width="32" height="32"/><text class="n" transform="rotate(90) scale(.76 1)" y="7">128</text></g>
</g>
</svg>
